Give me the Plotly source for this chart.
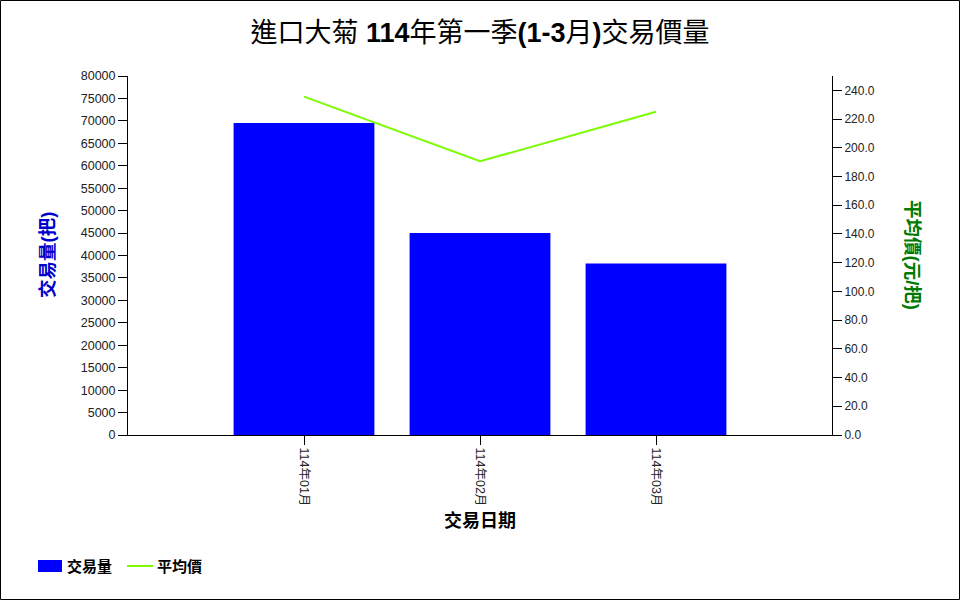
import plotly.graph_objects as go

# data
months = ["114年01月", "114年02月", "114年03月"]
volume = [69500, 45000, 38200]          # 交易量(把)
avg_price = [235.6, 190.6, 225.1]        # 平均價(元/把)

W, H = 960, 600
ML, MR, MT, MB = 128, 128, 76, 165
PW, PH = W - ML - MR, H - MT - MB

cjk = "Liberation Sans, Noto Sans CJK TC, sans-serif"
xpos = list(range(1, len(months) + 1))

# pixel -> paper helpers
def px_x(p):
    return (p - ML) / PW

def px_y(p):
    return (MT + PH - p) / PH

fig = go.Figure()
fig.add_trace(go.Bar(x=xpos, y=volume, name="交易量", marker_color="#0000FF",
                     marker_line_width=0, width=0.8))
fig.add_trace(go.Scatter(x=xpos, y=avg_price, name="平均價", mode="lines",
                         line=dict(color="#7CFC00", width=2), yaxis="y2"))

axis_common = dict(showgrid=False, zeroline=False, showline=True, linecolor="black",
                   linewidth=1, ticks="outside", ticklen=9, tickcolor="black",
                   tickfont=dict(family=cjk, size=12, color="#222"))

fig.update_layout(
    width=W, height=H,
    margin=dict(l=ML, r=MR, t=MT, b=MB),
    paper_bgcolor="white", plot_bgcolor="white",
    title=dict(text="進口大菊 <b>114</b>年第一季<b>(1-3</b>月<b>)</b>交易價量",
               x=0.5, xanchor="center", y=1 - 33 / H, yanchor="middle",
               font=dict(family=cjk, size=27, color="black")),
    xaxis=dict(axis_common, range=[0, len(months) + 1], tickvals=xpos, ticktext=months,
               tickangle=90, tickfont=dict(family=cjk, size=12.5, color="#222")),
    yaxis=dict(axis_common, range=[0, 80000], dtick=5000, tickformat="d",
               tickfont=dict(family=cjk, size=12.5, color="#222")),
    yaxis2=dict(axis_common, overlaying="y", side="right", range=[0, 250],
                tickvals=list(range(0, 241, 20)), tickformat=".1f"),
    showlegend=False,
)

fig.add_annotation(text="<b>交易日期</b>", xref="paper", yref="paper", x=0.5,
                   y=px_y(520), showarrow=False, xanchor="center", yanchor="middle",
                   font=dict(family=cjk, size=18, color="black"))
fig.add_annotation(text="<b>交易量(把)</b>", xref="paper", yref="paper", x=px_x(47),
                   y=px_y(255), showarrow=False, textangle=-90,
                   xanchor="center", yanchor="middle",
                   font=dict(family=cjk, size=18.5, color="#0000CC"))
fig.add_annotation(text="<b>平均價(元/把)</b>", xref="paper", yref="paper", x=px_x(913),
                   y=px_y(255), showarrow=False, textangle=90,
                   xanchor="center", yanchor="middle",
                   font=dict(family=cjk, size=18.5, color="#007A00"))

# legend drawn by hand at the bottom left
fig.add_shape(type="rect", xref="paper", yref="paper",
              x0=px_x(38), x1=px_x(62), y0=px_y(572), y1=px_y(560),
              fillcolor="#0000FF", line_width=0)
fig.add_annotation(text="<b>交易量</b>", xref="paper", yref="paper", x=px_x(65),
                   y=px_y(566), showarrow=False, xanchor="left", yanchor="middle",
                   font=dict(family=cjk, size=15, color="black"))
fig.add_shape(type="line", xref="paper", yref="paper",
              x0=px_x(127), x1=px_x(153), y0=px_y(566), y1=px_y(566),
              line=dict(color="#7CFC00", width=2))
fig.add_annotation(text="<b>平均價</b>", xref="paper", yref="paper", x=px_x(155),
                   y=px_y(566), showarrow=False, xanchor="left", yanchor="middle",
                   font=dict(family=cjk, size=15, color="black"))

# outer frame around the whole picture
fig.add_shape(type="rect", xref="paper", yref="paper",
              x0=px_x(0.5), x1=px_x(W - 0.5), y0=px_y(H - 0.5), y1=px_y(0.5),
              line=dict(color="black", width=1), layer="below")

fig.write_html("out.html", config={"displayModeBar": False},
               post_script="document.body.style.margin='0';")
